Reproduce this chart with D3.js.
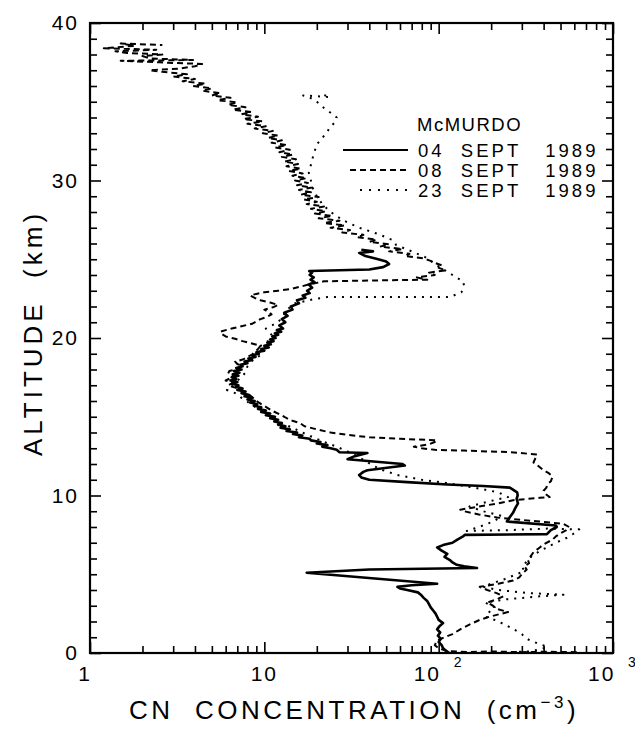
<!DOCTYPE html>
<html>
<head>
<meta charset="utf-8">
<script src="https://cdn.jsdelivr.net/npm/d3@7"></script>
<style>
  body { margin: 0; background: #fff; }
  text { font-family: "Liberation Sans", Arial, sans-serif; fill: #000; }
</style>
</head>
<body>
<div id="chart"></div>
<script>
// CN profiles over McMurdo, [altitude km, CN cm-3]
var sept04 = [
  [0.0,115],[0.15,110],[0.3,106],[0.5,104],[0.7,100],[0.9,103],[1.1,99],[1.3,102],[1.5,98],[1.7,101],
  [1.9,106],[2.1,100],[2.3,98],[2.5,96],[2.7,93],[2.9,90],[3.1,88],[3.3,86],[3.5,82],[3.7,79],
  [3.85,76],[4.0,66],[4.1,60],[4.2,58],[4.3,70],[4.4,98],[5.1,17.5],[5.3,40],[5.4,166],[5.5,140],
  [5.6,127],[5.75,120],[5.9,116],[6.1,108],[6.3,112],[6.5,104],[6.7,98],[6.85,106],[7.0,120],[7.2,128],
  [7.4,138],[7.5,141],[7.55,418],[7.8,440],[8.0,476],[8.1,470],[8.35,246],[8.6,255],[8.9,267],[9.2,275],
  [9.5,285],[9.8,280],[10.0,284],[10.2,282],[10.5,256],[10.6,180],[10.7,112],[10.85,66],[11.0,40],[11.15,36],
  [11.3,35],[11.5,37],[11.6,39],[11.9,64],[12.0,62],[12.3,30],[12.5,33],[12.7,39],[12.75,27],[12.9,26],
  [13.0,24],[13.1,21.5],[13.2,23],[13.3,20],[13.4,21],[13.5,18.5],[13.6,18.2],[13.7,15.8],[13.8,16.5],[13.9,14.6],
  [14.0,15.4],[14.1,13.4],[14.2,14.0],[14.3,12.4],[14.4,13.2],[14.5,12.0],[14.6,12.6],[14.7,11.4],[14.8,12.0],[14.9,10.8],
  [15.0,11.5],[15.1,10.2],[15.2,10.8],[15.3,9.6],[15.4,10.2],[15.5,9.2],[15.6,9.6],[15.7,8.7],[15.8,9.1],[15.9,8.3],
  [16.0,8.8],[16.1,8.0],[16.2,8.5],[16.3,7.7],[16.4,8.1],[16.5,7.4],[16.6,7.8],[16.7,7.0],[16.8,7.5],[16.9,6.9],
  [17.0,7.1],[17.1,6.5],[17.2,7.0],[17.3,6.4],[17.4,6.9],[17.5,6.5],[17.6,7.1],[17.7,6.6],[17.8,7.2],[17.9,6.7],
  [18.0,7.4],[18.1,6.9],[18.2,7.5],[18.3,7.3],[18.4,8.0],[18.5,7.7],[18.6,8.5],[18.7,8.1],[18.8,8.9],[18.9,8.5],
  [19.0,9.3],[19.1,9.0],[19.2,10.0],[19.3,9.6],[19.4,10.6],[19.5,10.0],[19.6,10.9],[19.7,10.4],[19.8,11.3],[19.9,10.8],
  [20.0,11.6],[20.1,11.1],[20.2,12.0],[20.3,11.5],[20.4,12.5],[20.5,11.8],[20.6,12.8],[20.8,12.2],[21.0,13.2],[21.2,12.6],
  [21.4,13.6],[21.6,13.0],[21.8,14.5],[22.0,14.2],[22.2,15.8],[22.4,15.4],[22.55,17.2],[22.7,16.6],[22.85,18.2],[23.0,17.6],
  [23.2,18.8],[23.4,18.0],[23.55,19.4],[23.7,18.4],[23.85,19.2],[24.0,18.2],[24.15,18.8],[24.25,18.1],[24.35,40],[24.5,48],
  [24.7,52],[24.85,50],[25.0,45],[25.2,38],[25.4,35],[25.5,42],[25.6,36]
];

var sept08 = [
  [0.05,620],[0.08,420],[0.05,300],[0.1,200],[0.06,150],[0.12,112],[0.3,100],[0.5,95],[0.8,98],[1.0,108],
  [1.2,120],[1.5,133],[1.8,150],[2.1,172],[2.3,195],[2.5,230],[2.6,250],[2.8,215],[3.0,205],[3.2,190],
  [3.4,215],[3.6,235],[3.8,215],[4.0,190],[4.2,172],[4.4,220],[4.6,267],[4.8,290],[5.0,300],[5.3,320],
  [5.5,310],[5.7,330],[5.9,325],[6.1,335],[6.4,350],[6.7,380],[6.9,400],[7.2,450],[7.4,470],[7.6,500],
  [7.8,540],[8.0,560],[8.2,520],[8.3,420],[8.45,300],[8.6,216],[8.8,170],[9.0,140],[9.1,133],[9.3,170],
  [9.5,220],[9.7,267],[9.85,380],[9.9,433],[10.1,410],[10.3,400],[10.5,415],[10.7,420],[10.9,440],[11.2,450],
  [11.4,430],[11.6,400],[11.9,370],[12.1,350],[12.4,360],[12.6,367],[12.75,260],[12.85,140],[12.9,95],[13.0,80],
  [13.1,72],[13.25,88],[13.4,95],[13.5,98],[13.6,60],[13.7,40],[13.85,30],[14.0,24],[14.2,20],[14.4,17],
  [14.6,16],[14.8,14],[15.0,13],[15.2,12],[15.4,11],[15.6,10.3],[15.8,9.6],[16.0,9],[16.2,8.6],[16.4,8.2],
  [16.6,7.5],[16.8,7.0],[17.0,6.2],[17.15,6.6],[17.3,6.0],[17.45,6.4],[17.6,6.8],[17.75,6.2],[17.9,6.3],[18.05,7.0],
  [18.2,7.5],[18.35,7.0],[18.5,6.8],[18.65,7.6],[18.8,8.0],[18.95,8.5],[19.1,8.8],[19.3,9.2],[19.5,9.5],[19.65,8.5],
  [19.8,7.5],[19.95,6.8],[20.1,6.0],[20.25,5.7],[20.4,5.6],[20.5,6.0],[20.6,6.5],[20.75,7.4],[20.9,8.5],[21.05,9.0],
  [21.2,9.5],[21.35,10.4],[21.5,11.0],[21.65,10.6],[21.8,10.0],[21.95,11.2],[22.1,12.0],[22.25,10.8],[22.4,9.5],[22.55,8.8],
  [22.7,8.3],[22.8,9.0],[22.9,10],[23.0,12],[23.1,14],[23.25,16],[23.4,18],[23.5,20],[23.6,22],[23.65,40],
  [23.7,86],[23.85,75],[24.0,95],[24.15,88],[24.3,110],[24.45,100],[24.6,105],[24.75,96],[24.9,90],[25.05,82],
  [25.2,64],[25.35,68],[25.5,52],[25.65,62],[25.8,46],[25.95,52],[26.1,40],[26.25,44],[26.4,34],[26.55,37],
  [26.7,28],[26.85,31],[27.0,24],[27.15,29],[27.3,22],[27.45,27],[27.6,20.5],[27.75,24.5],[27.9,19.5],[28.05,22.5],
  [28.2,18.5],[28.35,22],[28.5,17.5],[28.65,20],[28.8,16.8],[28.95,20.5],[29.1,16.2],[29.25,18.5],[29.4,15.8],[29.55,18.8],
  [29.7,15.4],[29.85,17.8],[30.0,15],[30.15,17.5],[30.3,14.5],[30.45,16.6],[30.6,13.8],[30.75,16.2],[30.9,13.4],[31.05,15.6],
  [31.2,13],[31.35,15.2],[31.5,12.6],[31.65,14.6],[31.8,12.2],[31.95,14],[32.1,11.5],[32.25,13.5],[32.4,11],[32.55,12.6],
  [32.7,10.5],[32.85,12],[33.0,9.8],[33.15,11.2],[33.3,8.8],[33.45,10.2],[33.6,8.0],[33.75,9.8],[33.9,7.6],[34.05,9.2],
  [34.2,7.4],[34.35,8.4],[34.5,6.6],[34.65,7.8],[34.8,6.2],[34.95,7.0],[35.1,5.4],[35.25,6.4],[35.4,5.0],[35.55,5.6],
  [35.7,4.4],[35.85,5.0],[36.0,3.9],[36.15,4.6],[36.3,3.4],[36.45,4.0],[36.6,3.0],[36.75,3.6],[36.9,2.6],[37.0,2.2],
  [37.1,3.2],[37.25,4.0],[37.4,4.4],[37.5,2.5],[37.6,1.5],[37.65,3.9],[37.75,2.2],[37.9,2.0],[38.0,2.6],[38.1,1.63],
  [38.2,1.4],[38.3,2.4],[38.4,1.2],[38.55,1.8],[38.7,1.5],[38.6,2.6]
];

var sept23 = [
  [0.05,260],[0.1,330],[0.25,390],[0.4,420],[0.6,370],[0.9,320],[1.2,300],[1.5,270],[1.8,240],[2.1,210],
  [2.3,185],[2.6,195],[2.9,210],[3.2,185],[3.4,240],[3.6,380],[3.7,520],[3.8,330],[4.0,220],[4.2,180],
  [4.4,200],[4.7,240],[5.0,280],[5.2,310],[5.5,300],[5.8,320],[6.2,345],[6.6,400],[7.0,470],[7.3,540],
  [7.6,600],[7.85,640],[7.9,420],[7.8,250],[7.75,145],[8.1,180],[8.4,210],[8.7,230],[9.0,180],[9.3,150],
  [9.6,190],[9.9,250],[10.2,220],[10.5,160],[10.8,110],[11.0,80],[11.3,58],[11.6,48],[11.9,42],[12.2,38],
  [12.5,34],[12.8,30],[13.1,26],[13.4,22],[13.7,19],[14.0,16.5],[14.3,14.5],[14.6,12.5],[15.0,11],[15.4,9.5],
  [15.8,8.4],[16.2,7.4],[16.5,6.8],[16.7,6.1],[17.0,6.5],[17.4,7.2],[17.8,7.8],[18.2,8.0],[18.6,8.6],[19.0,9.8],
  [19.4,9.2],[19.8,10.5],[20.2,11.0],[20.6,10.2],[21.0,12.0],[21.4,12.8],[21.8,13.5],[22.2,15],[22.45,19],[22.6,23],
  [22.6,60],[22.6,116],[22.9,135],[23.3,140],[23.6,138],[24.0,120],[24.4,105],[24.7,95],[25.1,85],[25.5,70],
  [25.9,57],[26.2,55],[26.6,45],[27.0,35],[27.5,28],[28.0,24],[28.5,21.5],[29.0,20],[29.5,19],[30.0,18.5],
  [30.5,18],[31.0,18.5],[31.5,19],[31.9,19.5],[32.3,20],[32.7,21.5],[33.1,23],[33.4,23.8],[33.7,25.5],[34.0,26],
  [34.3,24],[34.6,22],[35.0,20],[35.3,18],[35.4,16.7],[35.3,23.8],[35.5,21]
];

var seriesNames = ["04  SEPT   1989", "08  SEPT   1989", "23  SEPT   1989"];
var seriesDash = [null, "6,4", "2,6"];
var yLabels = [0, 10, 20, 30, 40];
var xLabels = [[1, ""], [10, ""], [100, "2"], [1000, "3"]];

var width = 635;
var height = 729;
var plotLeft = 90, plotRight = 613, plotTop = 23, plotBottom = 653;

var svg = d3.select("#chart").append("svg")
  .attr("width", width)
  .attr("height", height);

var x = d3.scaleLog().domain([1, 1000]).range([plotLeft, plotRight]);
var y = d3.scaleLinear().domain([0, 40]).range([plotBottom, plotTop]);

// ticks, all pointing into the box
var xAll = x.ticks();
var xMajor = xAll.filter(function(d) { return Math.abs(Math.log10(d) - Math.round(Math.log10(d))) < 1e-9; });
var xMinor = xAll.filter(function(d) { return xMajor.indexOf(d) < 0; });
var yAll = y.ticks(40);
var yMajor = yAll.filter(function(d) { return d % 10 === 0; });
var yMinor = yAll.filter(function(d) { return d % 10 !== 0; });

function addAxis(axis, tx, ty) {
  var g = svg.append("g").attr("transform", "translate(" + tx + "," + ty + ")").call(axis);
  g.select(".domain").remove();
  g.selectAll("line").attr("stroke", "#000").attr("stroke-width", 1.6);
  g.selectAll("text").remove();
}
addAxis(d3.axisBottom(x).tickValues(xMinor).tickSize(-7), 0, plotBottom);
addAxis(d3.axisBottom(x).tickValues(xMajor).tickSize(-11), 0, plotBottom);
addAxis(d3.axisTop(x).tickValues(xMinor).tickSize(-7), 0, plotTop);
addAxis(d3.axisTop(x).tickValues(xMajor).tickSize(-11), 0, plotTop);
addAxis(d3.axisLeft(y).tickValues(yMinor).tickSize(-7), plotLeft, 0);
addAxis(d3.axisLeft(y).tickValues(yMajor).tickSize(-11), plotLeft, 0);
addAxis(d3.axisRight(y).tickValues(yMinor).tickSize(-7), plotRight, 0);
addAxis(d3.axisRight(y).tickValues(yMajor).tickSize(-11), plotRight, 0);

svg.append("rect")
  .attr("x", plotLeft).attr("y", plotTop)
  .attr("width", plotRight - plotLeft).attr("height", plotBottom - plotTop)
  .attr("fill", "none").attr("stroke", "#000").attr("stroke-width", 2.2);

// profiles
var line = d3.line()
  .x(function(d) { return x(d[1]); })
  .y(function(d) { return y(d[0]); });

var profiles = [sept04, sept08, sept23];
profiles.forEach(function(p, i) {
  svg.append("path")
    .datum(p)
    .attr("d", line)
    .attr("fill", "none")
    .attr("stroke", "#000")
    .attr("stroke-width", i === 0 ? 2.6 : 2)
    .attr("stroke-linejoin", "round")
    .attr("stroke-dasharray", seriesDash[i]);
});

// tick labels
svg.selectAll(".ylab").data(yLabels).enter().append("text")
  .attr("x", 79)
  .attr("y", function(d) { return y(d) + 7; })
  .attr("text-anchor", "end")
  .attr("font-size", 21)
  .attr("letter-spacing", 2)
  .text(function(d) { return d; });

xLabels.forEach(function(d) {
  var t = svg.append("text")
    .attr("y", 681)
    .attr("font-size", 21)
    .attr("letter-spacing", 2);
  if (d[1] === "") {
    t.attr("x", x(d[0]) - (d[0] === 1 ? 5 : 0)).attr("text-anchor", "middle").text(d[0]);
  } else {
    t.attr("x", x(d[0]) - 25).text("10");
    svg.append("text")
      .attr("x", x(d[0]) + 15)
      .attr("y", 667)
      .attr("font-size", 14)
      .text(d[1]);
  }
});

// axis titles
var xt = svg.append("text")
  .attr("x", 354)
  .attr("y", 719)
  .attr("text-anchor", "middle")
  .attr("font-size", 26)
  .attr("letter-spacing", 3.5)
  .style("white-space", "pre");
xt.append("tspan").text("CN  CONCENTRATION  (cm");
xt.append("tspan").attr("dy", -11).attr("font-size", 17).text("\u22123");
xt.append("tspan").attr("dy", 11).text(")");

svg.append("text")
  .attr("transform", "translate(42,333) rotate(-90)")
  .attr("text-anchor", "middle")
  .attr("font-size", 26)
  .attr("letter-spacing", 4)
  .style("white-space", "pre")
  .text("ALTITUDE  (km)");

// legend
svg.append("text")
  .attr("x", 417)
  .attr("y", 131)
  .attr("font-size", 18.5)
  .attr("letter-spacing", 1.5)
  .text("McMURDO");

seriesNames.forEach(function(name, i) {
  var ly = 150 + i * 20;
  svg.append("line")
    .attr("x1", i === 0 ? 343 : (i === 1 ? 350 : 360))
    .attr("x2", 408)
    .attr("y1", ly).attr("y2", ly)
    .attr("stroke", "#000")
    .attr("stroke-width", i === 0 ? 2.2 : 2)
    .attr("stroke-dasharray", i === 2 ? "2,7" : seriesDash[i]);
  svg.append("text")
    .attr("x", 418)
    .attr("y", ly + 7)
    .attr("font-size", 18.5)
    .attr("letter-spacing", 3)
    .style("white-space", "pre")
    .text(name);
});
</script>
</body>
</html>
